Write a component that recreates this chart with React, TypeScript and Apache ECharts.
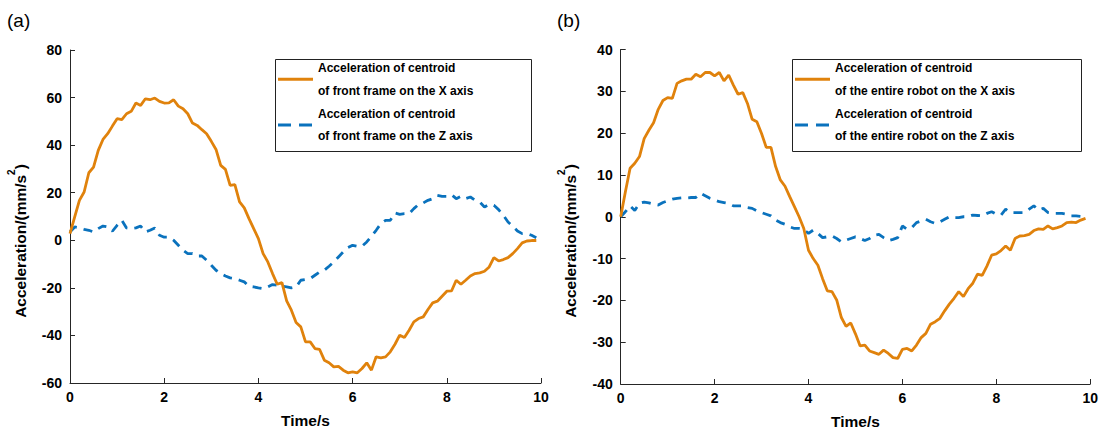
import React, { useEffect, useRef } from "react";
import * as echarts from "echarts";

// Sampling instants (s)
const TIME = [
  0, 0.1, 0.2, 0.3, 0.4, 0.5, 0.6, 0.7, 0.8, 0.9,
  1, 1.1, 1.2, 1.3, 1.4, 1.5, 1.6, 1.7, 1.8, 1.9,
  2, 2.1, 2.2, 2.3, 2.4, 2.5, 2.6, 2.7, 2.8, 2.9,
  3, 3.1, 3.2, 3.3, 3.4, 3.5, 3.6, 3.7, 3.8, 3.9,
  4, 4.1, 4.2, 4.3, 4.4, 4.5, 4.6, 4.7, 4.8, 4.9,
  5, 5.1, 5.2, 5.3, 5.4, 5.5, 5.6, 5.7, 5.8, 5.9,
  6, 6.1, 6.2, 6.3, 6.4, 6.5, 6.6, 6.7, 6.8, 6.9,
  7, 7.1, 7.2, 7.3, 7.4, 7.5, 7.6, 7.7, 7.8, 7.9,
  8, 8.1, 8.2, 8.3, 8.4, 8.5, 8.6, 8.7, 8.8, 8.9,
  9, 9.1, 9.2, 9.3, 9.4, 9.5, 9.6, 9.7, 9.8, 9.9,
];

// (a) front frame centroid acceleration, mm/s^2
const FRONT_X = [
  2.8, 9.8, 16.8, 20.3, 28.4, 30.8, 37.8, 42.4, 44.8, 48,
  51.1, 50.7, 53.2, 54.2, 57.7, 56.7, 59.5, 59.1, 59.8, 58.4,
  57.7, 57.8, 59.1, 56.4, 55.3, 53.2, 49.3, 48.3, 46.5, 44.8,
  41.6, 38.2, 31.5, 29.8, 23.1, 23.4, 16.1, 13.6, 9.1, 4.9,
  0.7, -5.6, -9.1, -14, -18.5, -17.8, -25.5, -29.4, -34.6, -36.4,
  -42.7, -42.7, -45.5, -45.9, -50.4, -51.5, -53.2, -53, -54.6, -55.7,
  -55.3, -55.7, -53.9, -51.5, -54.6, -49, -49.4, -49, -46.9, -43.7,
  -39.9, -40.9, -37.8, -34.3, -32.9, -32.2, -29.1, -26.3, -25.6, -23.5,
  -21.4, -21.3, -16.8, -18.5, -16.8, -15, -14, -13.7, -13, -11.2,
  -7.3, -8.7, -8.1, -7.3, -5.6, -3.5, -1.1, -0.3, -0.1, -0.1,
];
const FRONT_Z = [
  3.5, 5.6, 5.2, 4.6, 4.2, 3.5, 4.9, 6, 5.6, 3.8,
  6.3, 8.4, 5.2, 4.9, 5.2, 6, 3.5, 4.2, 5.2, 2.1,
  1.3, 1.3, 0, -2.1, -4.2, -5.6, -5.6, -6.6, -6.6, -8.4,
  -10.5, -12.6, -14, -15, -15.8, -16.1, -16.8, -17.5, -19.3, -19.6,
  -20, -20.3, -19.6, -18.6, -18.9, -19.3, -19.6, -20, -19.6, -16.8,
  -16.5, -16.1, -14.7, -13.3, -12.6, -10.9, -9.1, -7, -4.9, -3.1,
  -2.1, -2.5, -2.5, -0.7, 1.7, 4.2, 7, 8.4, 8.4, 11.5,
  10.9, 11.2, 11.2, 13.3, 15.1, 15.7, 16.8, 17.5, 18.9, 18.5,
  18.5, 19.2, 17.5, 18.5, 17.5, 18.2, 16.8, 16.1, 14, 15.1,
  14.7, 12.9, 10.5, 7.7, 5.9, 3.9, 2.8, 2.8, 2.1, 1.1,
];

// (b) whole-robot centroid acceleration, mm/s^2
const ROBOT_X = [
  0, 6, 11.6, 12.8, 14.4, 18.7, 20.7, 22.5, 25.7, 27.8,
  28.5, 28.3, 31.9, 32.5, 32.9, 32.9, 34.1, 33.5, 34.5, 34.5,
  33.7, 34.5, 32.5, 33.9, 31.5, 29.3, 29.7, 27.1, 23.3, 22.7,
  19.9, 16.6, 16.6, 12, 8.8, 7.3, 4.8, 2.4, 0, -2.8,
  -8, -10, -11.6, -14.8, -17.7, -17.9, -19.9, -24.1, -26.2, -25.4,
  -28, -30.9, -30.7, -32.1, -32.5, -32.9, -31.9, -32.7, -33.7, -33.9,
  -31.7, -31.5, -32.1, -30.7, -28.9, -27.9, -25.7, -25.1, -24.3, -22.5,
  -20.9, -19.5, -17.9, -19.1, -17.2, -15.9, -13.7, -14, -11.8, -9.2,
  -8.9, -8.1, -7, -8, -5.2, -4.6, -4.5, -4.2, -3.3, -2.9,
  -3, -2.2, -2.9, -2.6, -2.2, -1.4, -1.3, -1.4, -0.8, -0.4,
];
const ROBOT_Z = [
  0, 1.2, 2.6, 1.5, 3.2, 3.5, 3.3, 3, 2.8, 3.4,
  3.8, 4.2, 4.4, 4.5, 4.5, 4.6, 4.6, 5.6, 5, 4.4,
  4, 3.6, 3.4, 3.2, 2.6, 2.6, 2.6, 2.2, 2, 1.4,
  1, 0.6, 0.2, -0.8, -1.4, -1.8, -2.4, -2.8, -2.8, -3,
  -4, -3.2, -4, -5, -4.8, -4.6, -5.2, -6, -5.6, -5.2,
  -4.8, -5.2, -5.7, -5.2, -4.4, -4.2, -5, -5.7, -5.4, -5,
  -2.2, -3, -2.6, -1.4, -1, -0.6, -1.2, -1.6, -1.2, -0.6,
  0, -0.2, -0.2, 0, 0, 0.4, 0.3, 0.2, 0.8, 1.2,
  0.6, 0.4, 1.8, 1, 1, 1, 1, 1.8, 2.6, 1.6,
  2, 1, 0.8, 0.8, 0.8, 0.6, 0.2, 0.2, 0.1, 0,
];

const NAME_A_X = "Acceleration of centroid\nof front frame on the X axis";
const NAME_A_Z = "Acceleration of centroid\nof front frame on the Z axis";
const NAME_B_X = "Acceleration of centroid\nof the entire robot on the X axis";
const NAME_B_Z = "Acceleration of centroid\nof the entire robot on the Z axis";

const ORANGE = "#E0820C";
const BLUE = "#0A72BD";
const AXIS = "#262626";
const FONT = "'Liberation Sans', Arial, Helvetica, sans-serif";

// Legend swatches: a solid bar and a two-dash bar
const ICON_SOLID = "path://M0,0H35V3H0Z";
const ICON_DASHED = "path://M0,0H13V3H0Z M21,0H34V3H21Z M34,0H35V0H34Z";

const pairs = (ys: number[]) => TIME.map((t, i) => [t, ys[i]]);

function xAxis(gridIndex: number) {
  return {
    type: "value",
    gridIndex,
    min: 0,
    max: 10,
    interval: 2,
    name: "Time/s",
    nameLocation: "middle",
    nameGap: 29,
    nameTextStyle: { fontFamily: FONT, fontWeight: "bold", fontSize: 15.5, color: "#000" },
    axisLine: { show: true, onZero: false, lineStyle: { color: AXIS, width: 1 } },
    axisTick: { show: true, inside: true, length: 5, lineStyle: { color: AXIS } },
    axisLabel: { fontFamily: FONT, fontWeight: "bold", fontSize: 14, color: "#000", margin: 7 },
    splitLine: { show: false },
  };
}

function yAxis(gridIndex: number, min: number, max: number, interval: number) {
  return {
    type: "value",
    gridIndex,
    min,
    max,
    interval,
    axisLine: { show: true, onZero: false, lineStyle: { color: AXIS, width: 1 } },
    axisTick: { show: true, inside: true, length: 5, lineStyle: { color: AXIS } },
    axisLabel: { fontFamily: FONT, fontWeight: "bold", fontSize: 14, color: "#000", margin: 8 },
    splitLine: { show: false },
  };
}

function lineSeries(name: string, data: number[], idx: number, color: string, dashed: boolean) {
  return {
    type: "line",
    name,
    xAxisIndex: idx,
    yAxisIndex: idx,
    data: pairs(data),
    symbol: "none",
    lineStyle: { color, width: 2.8, type: dashed ? [9, 7] : "solid" },
    itemStyle: { color },
    z: dashed ? 2 : 3,
  };
}

function legend(left: number, names: string[]) {
  return {
    left,
    top: 56.5,
    orient: "vertical",
    padding: 0,
    itemGap: 0,
    itemWidth: 35,
    itemHeight: 3,
    selectedMode: false,
    textStyle: { fontFamily: FONT, fontWeight: "bold", fontSize: 12, color: "#000", lineHeight: 22.8 },
    data: [
      { name: names[0], icon: ICON_SOLID, itemStyle: { color: ORANGE } },
      { name: names[1], icon: ICON_DASHED, itemStyle: { color: BLUE } },
    ],
  };
}

function yTitle(x: number) {
  return {
    type: "text",
    x,
    y: 241,
    rotation: Math.PI / 2,
    style: {
      text: "{m|Acceleration/(mm/s}{s|2}{m|)}",
      align: "center",
      verticalAlign: "middle",
      rich: {
        m: { fontFamily: FONT, fontWeight: "bold", fontSize: 15.5, fill: "#000", lineHeight: 22, verticalAlign: "bottom" },
        s: { fontFamily: FONT, fontWeight: "bold", fontSize: 10, fill: "#000", lineHeight: 22, verticalAlign: "top" },
      },
    },
  };
}

function legendBox(x: number, width: number) {
  return {
    type: "rect",
    shape: { x: x + 0.5, y: 59.5, width, height: 92 },
    style: { fill: "none", stroke: "#222", lineWidth: 1 },
    z: 10,
  };
}

export default function App() {
  const ref = useRef<HTMLDivElement>(null);

  useEffect(() => {
    if (!ref.current) return;
    const chart = echarts.init(ref.current, undefined, { renderer: "svg" });
    chart.setOption({
      animation: false,
      backgroundColor: "#fff",
      grid: [
        { left: 70, top: 50, width: 471, height: 333, containLabel: false, outerBoundsMode: "none" },
        { left: 620.7, top: 49.5, width: 469.5, height: 334.5, containLabel: false, outerBoundsMode: "none" },
      ],
      xAxis: [xAxis(0), xAxis(1)],
      yAxis: [yAxis(0, -60, 80, 20), yAxis(1, -40, 40, 10)],
      legend: [legend(278, [NAME_A_X, NAME_A_Z]), legend(795, [NAME_B_X, NAME_B_Z])],
      series: [
        lineSeries(NAME_A_X, FRONT_X, 0, ORANGE, false),
        lineSeries(NAME_A_Z, FRONT_Z, 0, BLUE, true),
        lineSeries(NAME_B_X, ROBOT_X, 1, ORANGE, false),
        lineSeries(NAME_B_Z, ROBOT_Z, 1, BLUE, true),
      ],
      graphic: [
        { type: "text", x: 7, y: 20, style: { text: "(a)", fontFamily: FONT, fontSize: 19, fill: "#000", verticalAlign: "middle" } },
        { type: "text", x: 557, y: 20, style: { text: "(b)", fontFamily: FONT, fontSize: 19, fill: "#000", verticalAlign: "middle" } },
        yTitle(17),
        yTitle(567),
        legendBox(275, 256),
        legendBox(792, 289),
      ],
    });
    return () => chart.dispose();
  }, []);

  return (
    <div
      ref={ref}
      style={{ position: "fixed", left: 0, top: 0, width: 1106, height: 430, background: "#fff" }}
    />
  );
}
